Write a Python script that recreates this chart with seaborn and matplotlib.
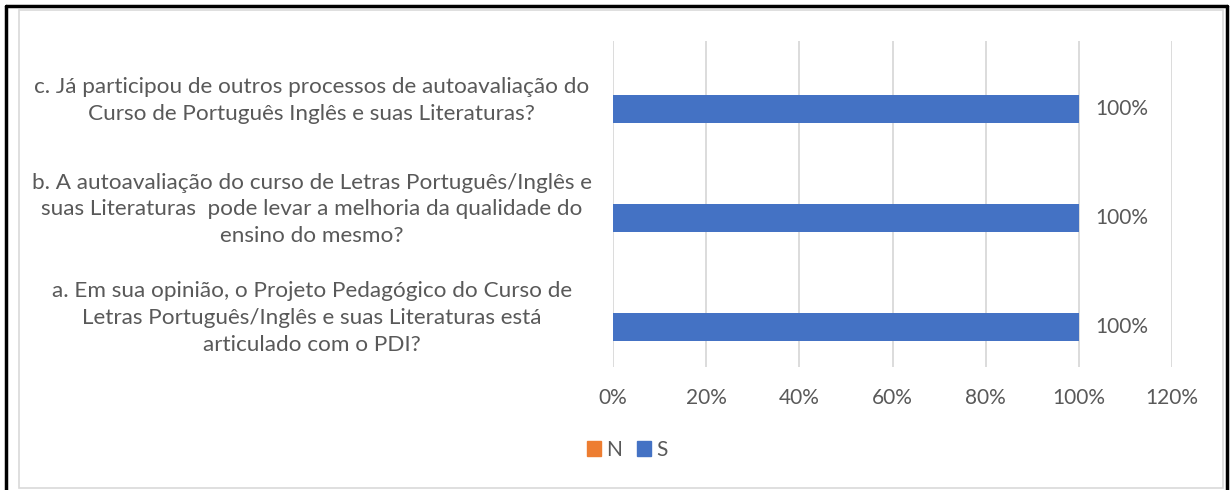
import matplotlib.pyplot as plt
import pandas as pd
import seaborn as sns
from matplotlib.lines import Line2D
from matplotlib.patches import Rectangle
from matplotlib.ticker import PercentFormatter

# Data
questions = [
    "c. Já participou de outros processos de autoavaliação do\nCurso de Português Inglês e suas Literaturas?",
    "b. A autoavaliação do curso de Letras Português/Inglês e\nsuas Literaturas  pode levar a melhoria da qualidade do\nensino do mesmo?",
    "a. Em sua opinião, o Projeto Pedagógico do Curso de\nLetras Português/Inglês e suas Literaturas está\narticulado com o PDI?",
]
series = ["N", "S"]
n_values = [0.0, 0.0, 0.0]
s_values = [1.0, 1.0, 1.0]
x_ticks = [0, 0.2, 0.4, 0.6, 0.8, 1.0, 1.2]

df = pd.DataFrame({
    "question": questions * 2,
    "serie": ["N"] * 3 + ["S"] * 3,
    "value": n_values + s_values,
})

sns.set_style("white")
plt.rcParams["font.family"] = ["Lato", "DejaVu Sans"]
text_color = "#595959"
palette = {"N": "#ED7D31", "S": "#4472C4"}

fig = plt.figure(figsize=(12.3, 4.9), dpi=100)
ax = fig.add_axes([0.4984, 0.251, 0.4545, 0.665])

sns.barplot(data=df, x="value", y="question", hue="serie", hue_order=series,
            order=questions, palette=palette, orient="h", width=0.515,
            gap=0, saturation=1, legend=False, ax=ax, linewidth=0)

ax.set_xlim(0, 1.2)
ax.set_xticks(x_ticks)
ax.xaxis.set_major_formatter(PercentFormatter(1.0, decimals=0))
ax.grid(axis="x", color="#D9D9D9", linewidth=1.3)
ax.set_axisbelow(True)
for s in ax.spines.values():
    s.set_visible(False)
ax.set_xlabel("")
ax.set_ylabel("")
ax.tick_params(axis="x", length=0, pad=15, labelsize=15, labelcolor=text_color)
ax.tick_params(axis="y", length=0, pad=217, labelsize=16.2, labelcolor=text_color)
for lab in ax.get_yticklabels():
    lab.set_horizontalalignment("center")
    lab.set_multialignment("center")
    lab.set_linespacing(1.42)

# data labels for S bars only
s_bars = ax.containers[1]
ax.bar_label(s_bars, labels=[f"{v:.0%}" for v in s_values], padding=12,
             fontsize=15, color=text_color)

handles = [Rectangle((0, 0), 1, 1, color=palette[k]) for k in series]
fig.legend(handles, series, loc="center", bbox_to_anchor=(0.51, 0.082),
           ncol=2, frameon=False, fontsize=15, labelcolor=text_color,
           handlelength=0.7, handleheight=0.7, handletextpad=0.25,
           columnspacing=0.7)

# chart frame
fig.patches.append(Rectangle((19 / 1230, 2 / 490), 1204 / 1230, 478 / 490,
                             transform=fig.transFigure, fill=False,
                             edgecolor="#D9D9D9", linewidth=1.2))
for xs, ys in [([6 / 1230, 6 / 1230], [0, 484 / 490]),
               ([6 / 1230, 1227 / 1230], [484 / 490, 484 / 490]),
               ([1227 / 1230, 1227 / 1230], [0, 484 / 490])]:
    fig.lines.append(Line2D(xs, ys, transform=fig.transFigure,
                            color="black", linewidth=2.5))

fig.savefig("out.png", dpi=100)
